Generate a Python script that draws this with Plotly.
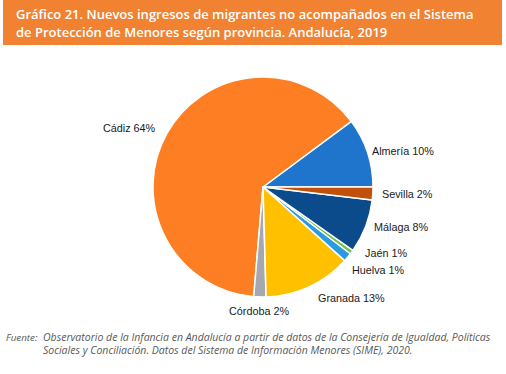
import plotly.graph_objects as go

provincias = ["Almería", "Cádiz", "Córdoba", "Granada", "Huelva", "Jaén", "Málaga", "Sevilla"]
porcentajes = [10.2, 63.6, 1.8, 12.9, 1.3, 0.6, 7.9, 1.9]
etiquetas = ["10%", "64%", "2%", "13%", "1%", "1%", "8%", "2%"]
colores = ["#1F75CC", "#FD7E23", "#A6A8B0", "#FFC000", "#2B9BE0", "#6FBF4A", "#0B4A8B", "#C0500A"]

W, H = 506, 374
# label anchor positions in pixels (layout only)
label_pos = {
    "Almería": (370, 151, "left"),
    "Cádiz": (158, 128, "right"),
    "Córdoba": (291, 311, "right"),
    "Granada": (316, 298, "left"),
    "Huelva": (350, 270, "left"),
    "Jaén": (363, 253, "left"),
    "Málaga": (372, 227, "left"),
    "Sevilla": (380, 194, "left"),
}

# first slice (Almería) ends at 3 o'clock, slices run counterclockwise
rotacion = 90 - 360 * porcentajes[0] / sum(porcentajes)

fig = go.Figure()
fig.add_trace(go.Pie(
    labels=provincias,
    values=porcentajes,
    marker=dict(colors=colores, line=dict(color="white", width=1.5)),
    textinfo="none",
    hoverinfo="label+percent",
    sort=False,
    direction="counterclockwise",
    rotation=rotacion,
    showlegend=False,
    domain=dict(x=[153 / W, 373 / W], y=[1 - 297 / H, 1 - 77 / H]),
))

annotations = []
for p, e in zip(provincias, etiquetas):
    x, y, anc = label_pos[p]
    annotations.append(dict(
        x=x / W, y=1 - y / H, xref="paper", yref="paper",
        text=f"{p} {e}", showarrow=False, xanchor=anc, yanchor="middle",
        font=dict(family="Arial, Liberation Sans", size=10.8, color="#1a1a1a"),
    ))

title_lines = [
    "Gráfico 21. Nuevos ingresos de migrantes no acompañados en el Sistema",
    "de Protección de Menores según provincia. Andalucía, 2019",
]
for i, t in enumerate(title_lines):
    annotations.append(dict(
        x=14 / W, y=1 - (14 + 18 * i) / H, xref="paper", yref="paper",
        text=t, showarrow=False, xanchor="left", yanchor="middle",
        font=dict(family="Open Sans", size=13, color="white", weight=600),
    ))

annotations.append(dict(
    x=4 / W, y=1 - 337 / H, xref="paper", yref="paper", text="Fuente:",
    showarrow=False, xanchor="left", yanchor="middle",
    font=dict(family="Open Sans", size=9.8, color="#595959", style="italic"),
))
foot_lines = [
    "Observatorio de la Infancia en Andalucía a partir de datos de la Consejería de Igualdad, Políticas",
    "Sociales y Conciliación. Datos del Sistema de Información Menores (SIME), 2020.",
]
for i, t in enumerate(foot_lines):
    annotations.append(dict(
        x=41 / W, y=1 - (337 + 13 * i) / H, xref="paper", yref="paper", text=t,
        showarrow=False, xanchor="left", yanchor="middle",
        font=dict(family="Open Sans", size=10.5, color="#595959", style="italic"),
    ))

fig.update_layout(
    width=W, height=H,
    margin=dict(l=0, r=0, t=0, b=0),
    paper_bgcolor="white", plot_bgcolor="white",
    annotations=annotations,
    shapes=[dict(type="rect", xref="paper", yref="paper",
                 x0=3 / W, x1=502 / W, y0=1 - 45 / H, y1=1,
                 fillcolor="#F08232", line=dict(width=0), layer="below")],
)

fig.write_html(
    "out.html",
    config={"displayModeBar": False},
    post_script="document.body.style.margin='0';document.body.style.overflow='hidden';",
)
